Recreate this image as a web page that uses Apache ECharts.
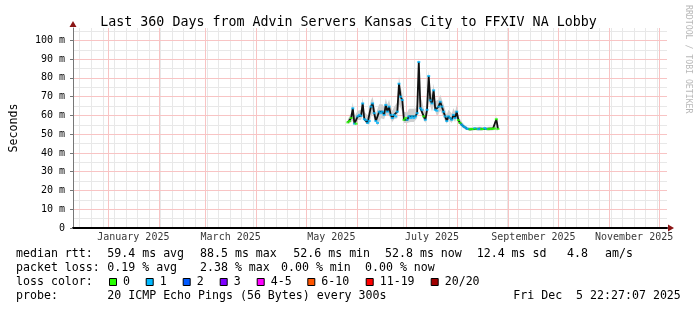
<!DOCTYPE html>
<html><head><meta charset="utf-8">
<script src="https://cdn.jsdelivr.net/npm/echarts@6/dist/echarts.min.js"></script>
<style>html,body{margin:0;padding:0;background:#fff}#c{width:697px;height:310px}</style>
</head><body><div id="c"></div><script>
const DAY = 86400000;
const firstSample = Date.UTC(2025, 4, 26, 12, 0, 0);
const xStart = Date.UTC(2024, 11, 10, 22, 27, 7);
const xEnd = Date.UTC(2025, 11, 5, 22, 27, 7);
const yTop = 106.6;

// daily median RTT (ms)
const median = [56.3, 57.0, 58.6, 63.8, 55.6, 55.6, 59.5, 60.3, 59.8, 66.4,
 58.0, 57.5, 56.0, 57.0, 64.7, 66.4, 61.2, 57.0, 56.0, 62.0,
 61.2, 62.0, 60.3, 65.6, 62.0, 64.7, 60.3, 58.6, 60.3, 59.5,
 62.0, 76.9, 70.0, 68.2, 57.7, 58.6, 57.7, 59.5, 58.6, 59.5,
 58.6, 59.5, 61.2, 88.5, 63.8, 63.0, 59.5, 57.7, 63.0, 81.0,
 68.0, 66.4, 73.4, 63.0, 62.5, 64.7, 67.3, 64.7, 62.0, 59.5,
 57.0, 59.5, 58.6, 57.7, 60.3, 58.6, 62.0, 57.5, 56.0, 55.1,
 54.2, 53.7, 53.0, 52.8, 52.6, 52.8, 52.7, 53.2, 52.8, 52.7,
 52.9, 52.7, 52.8, 53.3, 52.8, 52.7, 52.9, 52.8, 53.0, 53.0,
 58.0, 52.8];
// smoke extent (ms)
const smokeHi = [58.0, 59.5, 61.5, 67.0, 59.5, 59.0, 62.5, 63.5, 63.0, 69.5,
 62.0, 61.0, 60.0, 61.0, 68.0, 70.0, 65.5, 61.0, 60.5, 66.0,
 65.5, 66.0, 64.5, 69.0, 66.0, 68.5, 64.5, 62.5, 64.5, 63.5,
 67.0, 81.0, 75.0, 72.0, 62.0, 62.5, 61.5, 63.5, 62.5, 63.5,
 62.5, 63.5, 66.0, 91.0, 70.0, 67.5, 63.5, 61.5, 68.0, 84.0,
 74.0, 71.0, 77.0, 67.5, 66.5, 68.5, 71.0, 68.5, 66.0, 63.0,
 60.5, 63.0, 62.0, 61.0, 64.0, 62.0, 65.5, 60.0, 58.0, 56.8,
 55.5, 54.8, 54.0, 53.8, 53.6, 53.8, 53.7, 54.2, 53.8, 53.7,
 53.9, 53.7, 53.8, 54.3, 53.8, 53.7, 53.9, 53.8, 54.0, 54.0,
 59.5, 53.8];
const smokeLo = [55.5, 55.8, 56.5, 57.0, 54.5, 54.5, 57.5, 58.0, 57.5, 60.0,
 56.0, 55.5, 54.5, 55.0, 59.0, 61.0, 58.0, 55.0, 54.5, 58.5,
 58.5, 59.0, 58.0, 60.5, 59.0, 60.0, 58.0, 56.5, 58.0, 57.5,
 58.5, 66.0, 64.0, 62.0, 56.0, 56.5, 56.0, 57.5, 56.5, 57.5,
 56.5, 57.5, 58.5, 70.0, 60.0, 59.5, 57.5, 56.0, 59.0, 68.0,
 63.0, 62.0, 65.0, 59.5, 59.5, 61.0, 62.5, 61.0, 59.0, 57.0,
 55.5, 57.5, 56.5, 56.0, 58.0, 56.5, 59.0, 56.0, 54.8, 54.0,
 53.2, 52.8, 52.2, 52.0, 51.8, 52.0, 51.9, 52.3, 52.0, 51.9,
 52.1, 51.9, 52.0, 52.4, 52.0, 51.9, 52.1, 52.0, 52.2, 52.2,
 53.0, 52.0];
// loss class index per sample (0 = no loss, 1 = one lost)
const lossClass = [0,0,0,1,1,0,1,1,1,1,
 1,1,1,1,1,1,1,1,1,1,
 1,1,1,1,1,1,1,1,1,1,
 1,1,1,1,0,0,1,1,1,1,
 1,1,1,1,1,1,0,1,1,1,
 1,1,1,1,1,1,1,1,1,1,
 1,1,1,1,1,1,1,0,0,1,
 1,1,1,1,0,0,0,1,0,1,
 1,0,0,1,1,0,0,0,0,0,
 0,0];

const lossLabels = ['0','1','2','3','4-5','6-10','11-19','20/20'];
const lossColors = ['#26ff00','#00b8ff','#0059ff','#7e00ff','#ff00ff','#ff5500','#ff0000','#a00000'];
const monthLabels = ['January 2025','March 2025','May 2025','July 2025','September 2025','November 2025'];
const monthLabelMonths = [0,2,4,6,8,10];
const yMajor = [10,20,30,40,50,60,70,80,90,100];
const yMinor = [5,15,25,35,45,55,65,75,85,95,105];

const rttStats = [['median rtt:',16],['59.4 ms avg',107.3],['88.5 ms max',200],['52.6 ms min',293.3],['52.8 ms now',385],['12.4 ms sd',476.7],['4.8',567],['am/s',605]];
const lossStats = [['packet loss:',16],['0.19 % avg',107.3],['2.38 % max',200],['0.00 % min',281],['0.00 % now',365]];
const probeLine = [['probe:',16],['20 ICMP Echo Pings (56 Bytes) every 300s',107.3],['Fri Dec  5 22:27:07 2025',513.3]];
const boxX = [109,145.7,182.7,219.7,256.7,307.3,365.7,430.7];

const MONO = 'DejaVu Sans Mono';
const tAt = k => firstSample + k*DAY;

const minorLines = [];
for (let t = Date.UTC(2024,11,15); t < xEnd; t += 7*DAY) minorLines.push({xAxis:t});  // Sundays
for (const v of yMinor) minorLines.push({yAxis:v});
const majorLines = [];
for (let m = 0; m < 12; m++) majorLines.push({xAxis:Date.UTC(2025,m,1)});
for (const v of yMajor) majorLines.push({yAxis:v});

const labelData = monthLabels.map((n,i)=>{
  const m = monthLabelMonths[i];
  const mid = (Date.UTC(2025,m,1)+Date.UTC(2025,m+1,1))/2;
  return {name:n, value:[mid,0]};
});

const graphics = [];
function txt(s,x,y,size,color){graphics.push({type:'text',x:x,y:y,z:10,silent:true,style:{text:s,font:size+'px "'+MONO+'"',fill:color||'#000',align:'left',verticalAlign:'middle'}});}
rttStats.forEach(p=>txt(p[0],p[1],254,11.6));
lossStats.forEach(p=>txt(p[0],p[1],268,11.6));
txt('loss color:',16,282,11.6);
lossLabels.forEach((l,i)=>{
  graphics.push({type:'rect',z:10,silent:true,shape:{x:boxX[i]+0.5,y:278.5,width:7,height:7},style:{fill:lossColors[i],stroke:'#000',lineWidth:1}});
  txt(l,boxX[i]+14,282,11.6);
});
probeLine.forEach(p=>txt(p[0],p[1],296,11.6));
graphics.push({type:'text',x:688,y:5,z:10,rotation:-Math.PI/2,silent:true,style:{text:'RRDTOOL / TOBI OETIKER',font:'8.2px "'+MONO+'"',fill:'#b8b8b8',align:'left',verticalAlign:'middle'}});

const gridSeries = (data, color) => ({
  type:'line', data:[], z:0, silent:true, color:color, itemStyle:{color:color},
  markLine:{z:0, silent:true, symbol:['none','none'], label:{show:false}, animation:false,
    lineStyle:{color:color, type:'solid', width:1, opacity:1},
    emphasis:{disabled:true}, data:data}
});

const chart = echarts.init(document.getElementById('c'), null, {renderer:'canvas'});
chart.setOption({
  animation:false,
  backgroundColor:'#fff',
  title:{text:'Last 360 Days from Advin Servers Kansas City to FFXIV NA Lobby',left:'center',top:11,
    textStyle:{fontFamily:MONO,fontSize:13.3,fontWeight:'normal',color:'#000'}},
  grid:{left:67,top:28,width:600,height:200,containLabel:false},
  xAxis:{type:'time',min:xStart,max:xEnd,z:8,
    axisLine:{show:true,lineStyle:{color:'#000',width:2,type:'solid'}},
    axisTick:{show:false},axisLabel:{show:false},splitLine:{show:false},minorSplitLine:{show:false}},
  yAxis:{type:'value',min:0,max:yTop,interval:10,z:8,
    name:'Seconds',nameLocation:'middle',nameRotate:90,nameGap:53,
    nameTextStyle:{fontFamily:MONO,fontSize:11.6,color:'#000'},
    axisLine:{show:true,lineStyle:{color:'#777',width:1,type:'solid'}},
    axisTick:{show:true,length:3,lineStyle:{color:'#777'}},
    axisLabel:{showMaxLabel:false,margin:8,fontFamily:MONO,fontSize:10,color:'#000',
      formatter:v=>v===0?'0':v+' m'},
    splitLine:{show:false},minorSplitLine:{show:false}},
  graphic:graphics,
  series:[
    gridSeries(minorLines,'#e8e8e8'),
    gridSeries(majorLines,'#f8c4c4'),
    {type:'line',data:[],z:9,silent:true,
     markPoint:{z:9,silent:true,label:{show:false},animation:false,data:[
       {coord:[xStart,yTop],symbol:'triangle',symbolSize:[7,6],symbolOffset:[0,-4],itemStyle:{color:'#8b1515'}},
       {coord:[xEnd,0],symbol:'triangle',symbolSize:[7,6],symbolRotate:-90,symbolOffset:[4,0],itemStyle:{color:'#8b1515'}}
     ]}},
    {type:'line',name:'smokeLo',stack:'smoke',z:2,symbol:'none',silent:true,
     data:smokeLo.map((v,k)=>[tAt(k),v]),lineStyle:{opacity:0},areaStyle:{opacity:0}},
    {type:'line',name:'smokeBand',stack:'smoke',z:2,symbol:'none',silent:true,
     data:smokeHi.map((v,k)=>[tAt(k),+(v-smokeLo[k]).toFixed(2)]),lineStyle:{opacity:0,width:0},
     areaStyle:{color:'#d0d0d0',opacity:1}},
    {type:'line',name:'median',z:3,symbol:'none',silent:true,
     data:median.map((v,k)=>[tAt(k),v]),lineStyle:{color:'#111',width:1.8,type:'solid'}},
    {type:'scatter',name:'loss',z:4,silent:true,symbol:'rect',symbolSize:[3,2],
     data:median.map((v,k)=>({value:[tAt(k),v],itemStyle:{color:lossColors[lossClass[k]]}}))},
    {type:'scatter',name:'xlabels',z:4,silent:true,clip:false,symbolSize:0,
     data:labelData,
     label:{show:true,position:'bottom',distance:4,formatter:p=>p.name,
       fontFamily:MONO,fontSize:10,color:'#000'}}
  ]
});
</script></body></html>
